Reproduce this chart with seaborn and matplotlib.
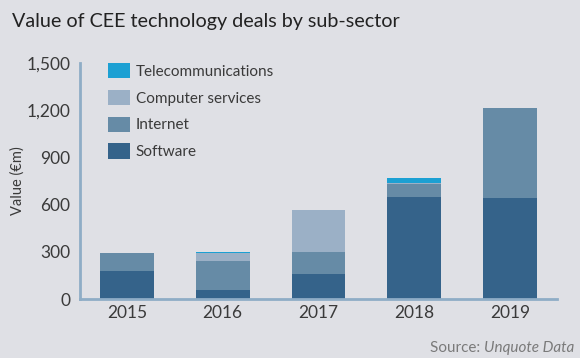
import numpy as np
import pandas as pd
import matplotlib
matplotlib.use("Agg")
import matplotlib.pyplot as plt
from matplotlib.patches import Patch
import seaborn as sns

years = ["2015", "2016", "2017", "2018", "2019"]
software = [180, 57, 157, 650, 640]
internet = [112, 186, 140, 79, 574]
computer_services = [0, 50, 269, 8, 0]
telecom = [0, 5, 0, 30, 0]

series = ["Software", "Internet", "Computer services", "Telecommunications"]
colors = {"Software": "#35638a", "Internet": "#668ba6",
          "Computer services": "#9bb0c6", "Telecommunications": "#1ca0d3"}

bg = "#dfe0e5"
sns.set_theme(style="white")
plt.rcParams["font.family"] = ["Lato", "DejaVu Sans"]

df = pd.DataFrame({"Year": years, "Software": software, "Internet": internet,
                   "Computer services": computer_services,
                   "Telecommunications": telecom})
cum = df[series].cumsum(axis=1)
cum["Year"] = df["Year"]

fig = plt.figure(figsize=(5.8, 3.58), dpi=100, facecolor=bg)
ax = fig.add_axes([80 / 580, 59 / 358, 477 / 580, 236 / 358])
ax.set_facecolor(bg)

# draw cumulative totals from the top layer down so lower layers cover them
for s in reversed(series):
    sns.barplot(data=cum, x="Year", y=s, color=colors[s], width=0.56,
                saturation=1, linewidth=0, ax=ax)

ax.set_ylim(0, 1500)
ax.set_xlim(-0.49, 4.49)
ax.set_yticks([0, 300, 600, 900, 1200, 1500])
ax.set_yticklabels(["0", "300", "600", "900", "1,200", "1,500"])
ax.tick_params(axis="both", length=0, labelsize=12.5, colors="#3a3a3a")
ax.tick_params(axis="y", pad=7)
ax.tick_params(axis="x", pad=4)
ax.set_xlabel("")
ax.set_ylabel("Value (€m)", fontsize=10.5, color="#3a3a3a", labelpad=1)

for side in ["top", "right"]:
    ax.spines[side].set_visible(False)
for side in ["left", "bottom"]:
    ax.spines[side].set_color("#8fadc6")
    ax.spines[side].set_linewidth(2)

handles = [Patch(facecolor=colors[s], edgecolor="none") for s in reversed(series)]
leg = ax.legend(handles, list(reversed(series)), loc="upper left",
                bbox_to_anchor=(0.045, 1.025), frameon=False, fontsize=11,
                handlelength=1.5, handleheight=1.15, handletextpad=0.35,
                labelspacing=0.72, borderaxespad=0)
for t in leg.get_texts():
    t.set_color("#3a3a3a")

fig.text(12 / 580, 1 - 22 / 358, "Value of CEE technology deals by sub-sector",
         fontsize=14.2, color="#222222", va="center", ha="left")
fig.text(574 / 580, 1 - 348 / 358, "Source: ", fontsize=11, color="#7a7a7a",
         va="center", ha="right")
src = fig.text(574 / 580, 1 - 348 / 358, "Unquote Data", fontsize=11, color="#7a7a7a",
               style="italic", va="center", ha="right")
fig.canvas.draw()
bb = src.get_window_extent()
fig.texts[-2].set_position((bb.x0 / fig.bbox.width, 1 - 348 / 358))

fig.savefig("out.png", dpi=100, facecolor=bg)
